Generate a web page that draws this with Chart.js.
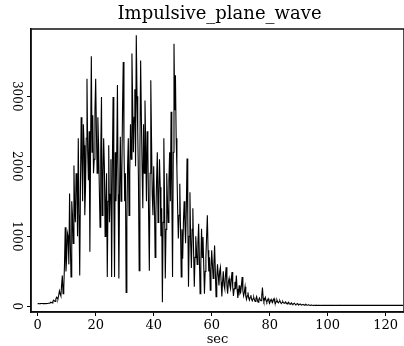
<!DOCTYPE html>
<html>
<head>
<meta charset="utf-8">
<script src="https://cdn.jsdelivr.net/npm/chart.js@4/dist/chart.umd.min.js"></script>
<style>
  html, body { margin: 0; padding: 0; background: #fff; }
  #wrap { width: 404px; height: 346px; }
</style>
</head>
<body>
<div id="wrap"><canvas id="c" width="404" height="346"></canvas></div>
<script>
// Trace amplitude sampled every quarter second, starting at 0 s (8 samples per row = 2 s)
const chartTitle = 'Impulsive_plane_wave';
const xAxisLabel = 'sec';
const startSec = 0;
const stepSec = 0.25;
const amplitude = [
  40, 40, 38, 39, 40, 41, 42, 40,
  39, 40, 41, 42, 40, 41, 43, 44,
  45, 50, 60, 55, 50, 70, 90, 80,
  70, 100, 130, 120, 110, 160, 220, 180,
  150, 300, 440, 180, 260, 600, 1130, 500,
  700, 1050, 1000, 600, 1610, 900, 420, 1500,
  1300, 900, 2010, 1400, 1200, 1900, 1800, 1000,
  2400, 1300, 440, 1700, 2700, 2100, 1500, 2600,
  2300, 1300, 1700, 2400, 3250, 2200, 1800, 2500,
  780, 2300, 3570, 2200, 2730, 1900, 2100, 2800,
  3250, 2500, 1900, 2700, 2300, 1700, 1130, 2200,
  2990, 1300, 1800, 2400, 2000, 1000, 1500, 1900,
  420, 1500, 2300, 1200, 1600, 2100, 420, 2000,
  2990, 1600, 420, 2200, 1500, 2100, 3160, 1600,
  400, 1700, 2420, 1500, 1800, 2800, 3490, 2300,
  1500, 1900, 200, 1200, 2000, 2400, 1300, 1900,
  2600, 2100, 3610, 2900, 2200, 2700, 3100, 2000,
  3870, 3000, 2500, 1800, 510, 2200, 3510, 2700,
  2000, 1400, 2600, 1900, 2940, 2300, 1500, 2500,
  2200, 1300, 510, 1900, 3230, 2400, 1600, 1300,
  2000, 1500, 700, 1300, 1800, 2200, 1200, 1600,
  2100, 1700, 1000, 1400, 60, 1200, 2400, 1500,
  400, 1100, 1900, 1500, 1200, 1800, 2200, 1500,
  2780, 1600, 420, 2200, 3750, 2800, 3300, 2400,
  1970, 1400, 970, 1300, 1750, 1100, 420, 1100,
  680, 1200, 1500, 1200, 900, 1400, 2110, 1300,
  280, 1000, 1630, 900, 550, 1100, 1400, 800,
  280, 700, 1000, 800, 600, 900, 1180, 700,
  180, 600, 1110, 700, 990, 600, 180, 500,
  700, 1000, 1300, 800, 500, 700, 230, 500,
  800, 600, 400, 600, 870, 500, 140, 400,
  600, 450, 300, 500, 560, 350, 140, 350,
  500, 300, 250, 450, 560, 300, 180, 350,
  400, 300, 250, 380, 490, 280, 150, 250,
  350, 250, 440, 250, 120, 200, 300, 180,
  200, 300, 420, 220, 150, 200, 280, 150,
  100, 150, 200, 120, 90, 130, 160, 100,
  80, 110, 130, 90, 70, 110, 140, 90,
  60, 100, 120, 90, 80, 150, 270, 120,
  70, 100, 130, 80, 60, 90, 110, 70,
  50, 80, 100, 70, 60, 90, 110, 60,
  45, 70, 90, 60, 50, 70, 80, 55,
  40, 55, 70, 50, 45, 55, 65, 45,
  35, 50, 60, 40, 30, 40, 50, 35,
  30, 38, 45, 32, 25, 32, 40, 28,
  22, 28, 35, 25, 20, 25, 30, 22,
  18, 22, 28, 20, 16, 19, 22, 17,
  15, 17, 20, 16, 14, 16, 17, 15,
  15, 16, 14, 15, 16, 15, 14, 16,
  15, 14, 16, 15, 15, 16, 14, 15,
  16, 15, 14, 15, 15, 16, 15, 14,
  15, 16, 15, 14, 16, 15, 15, 14,
  15, 15, 16, 14, 15, 16, 15, 15,
  14, 15, 16, 15, 14, 15, 15, 16,
  15, 14, 15, 16, 15, 15, 14, 15,
  16, 15, 15, 14, 15, 16, 15, 14,
  15, 15, 16, 15, 14, 15, 16, 15,
  14, 15, 15, 16, 15, 14, 15, 15,
  16, 15, 14, 15, 15, 16, 15, 14,
  15, 16, 15, 15, 14, 15, 16, 15,
  15, 14, 15, 16, 15, 15, 14, 15,
  16, 15, 15, 14, 15, 16, 15, 15,
  14, 15, 16, 15, 15, 14, 15, 16,
  15
];
const xTicks = [0, 20, 40, 60, 80, 100, 120];
const yTicks = [0, 1000, 2000, 3000];

const points = amplitude.map((v, i) => ({ x: startSec + i * stepSec, y: v }));

const serif = '"DejaVu Serif", "Liberation Serif", serif';

// Frame, title and the rotated amplitude labels
const decorations = {
  id: 'decorations',
  afterDraw(chart) {
    const { ctx, chartArea: a, scales } = chart;
    ctx.save();
    ctx.strokeStyle = '#111';
    ctx.lineWidth = 1.5;
    ctx.strokeRect(a.left, a.top, a.right - a.left, a.bottom - a.top);

    ctx.fillStyle = '#000';
    ctx.textAlign = 'center';
    ctx.textBaseline = 'middle';
    ctx.font = '18px ' + serif;
    ctx.fillText(chartTitle, (a.left + a.right) / 2 + 2, 14);

    ctx.font = '12px ' + serif;
    scales.y.ticks.forEach(t => {
      const y = scales.y.getPixelForValue(t.value);
      ctx.save();
      ctx.translate(16, y);
      ctx.rotate(Math.PI / 2);
      ctx.fillText(String(t.value), 0, 0);
      ctx.restore();
    });
    ctx.restore();
  }
};

new Chart(document.getElementById('c'), {
  type: 'line',
  data: {
    datasets: [{
      data: points,
      borderColor: '#000',
      borderWidth: 1.1,
      pointRadius: 0,
      tension: 0,
      fill: false
    }]
  },
  options: {
    responsive: false,
    animation: false,
    devicePixelRatio: 1,
    layout: { padding: { top: 29, right: 0, left: 0, bottom: 0 } },
    plugins: { legend: { display: false }, title: { display: false }, tooltip: { enabled: false } },
    scales: {
      x: {
        type: 'linear',
        min: -2.3,
        max: 126.3,
        afterBuildTicks: s => { s.ticks = xTicks.map(v => ({ value: v })); },
        afterFit: s => { s.height = 34; },
        grid: { drawOnChartArea: false, drawTicks: true, tickLength: 4, color: '#000' },
        border: { display: true, color: '#000', width: 1.5 },
        ticks: { color: '#000', font: { family: serif, size: 13 }, padding: 2, maxRotation: 0, autoSkip: false },
        title: { display: true, text: xAxisLabel, color: '#000', font: { family: serif, size: 13, lineHeight: 1 }, padding: { top: 0, bottom: 0 } }
      },
      y: {
        type: 'linear',
        min: -80,
        max: 3960,
        afterBuildTicks: s => { s.ticks = yTicks.map(v => ({ value: v })); },
        afterFit: s => { s.width = 31; },
        grid: { drawOnChartArea: false, drawTicks: true, tickLength: 4, color: '#000' },
        border: { display: true, color: '#000', width: 1.5 },
        ticks: { display: false }
      }
    }
  },
  plugins: [decorations]
});
</script>
</body>
</html>
